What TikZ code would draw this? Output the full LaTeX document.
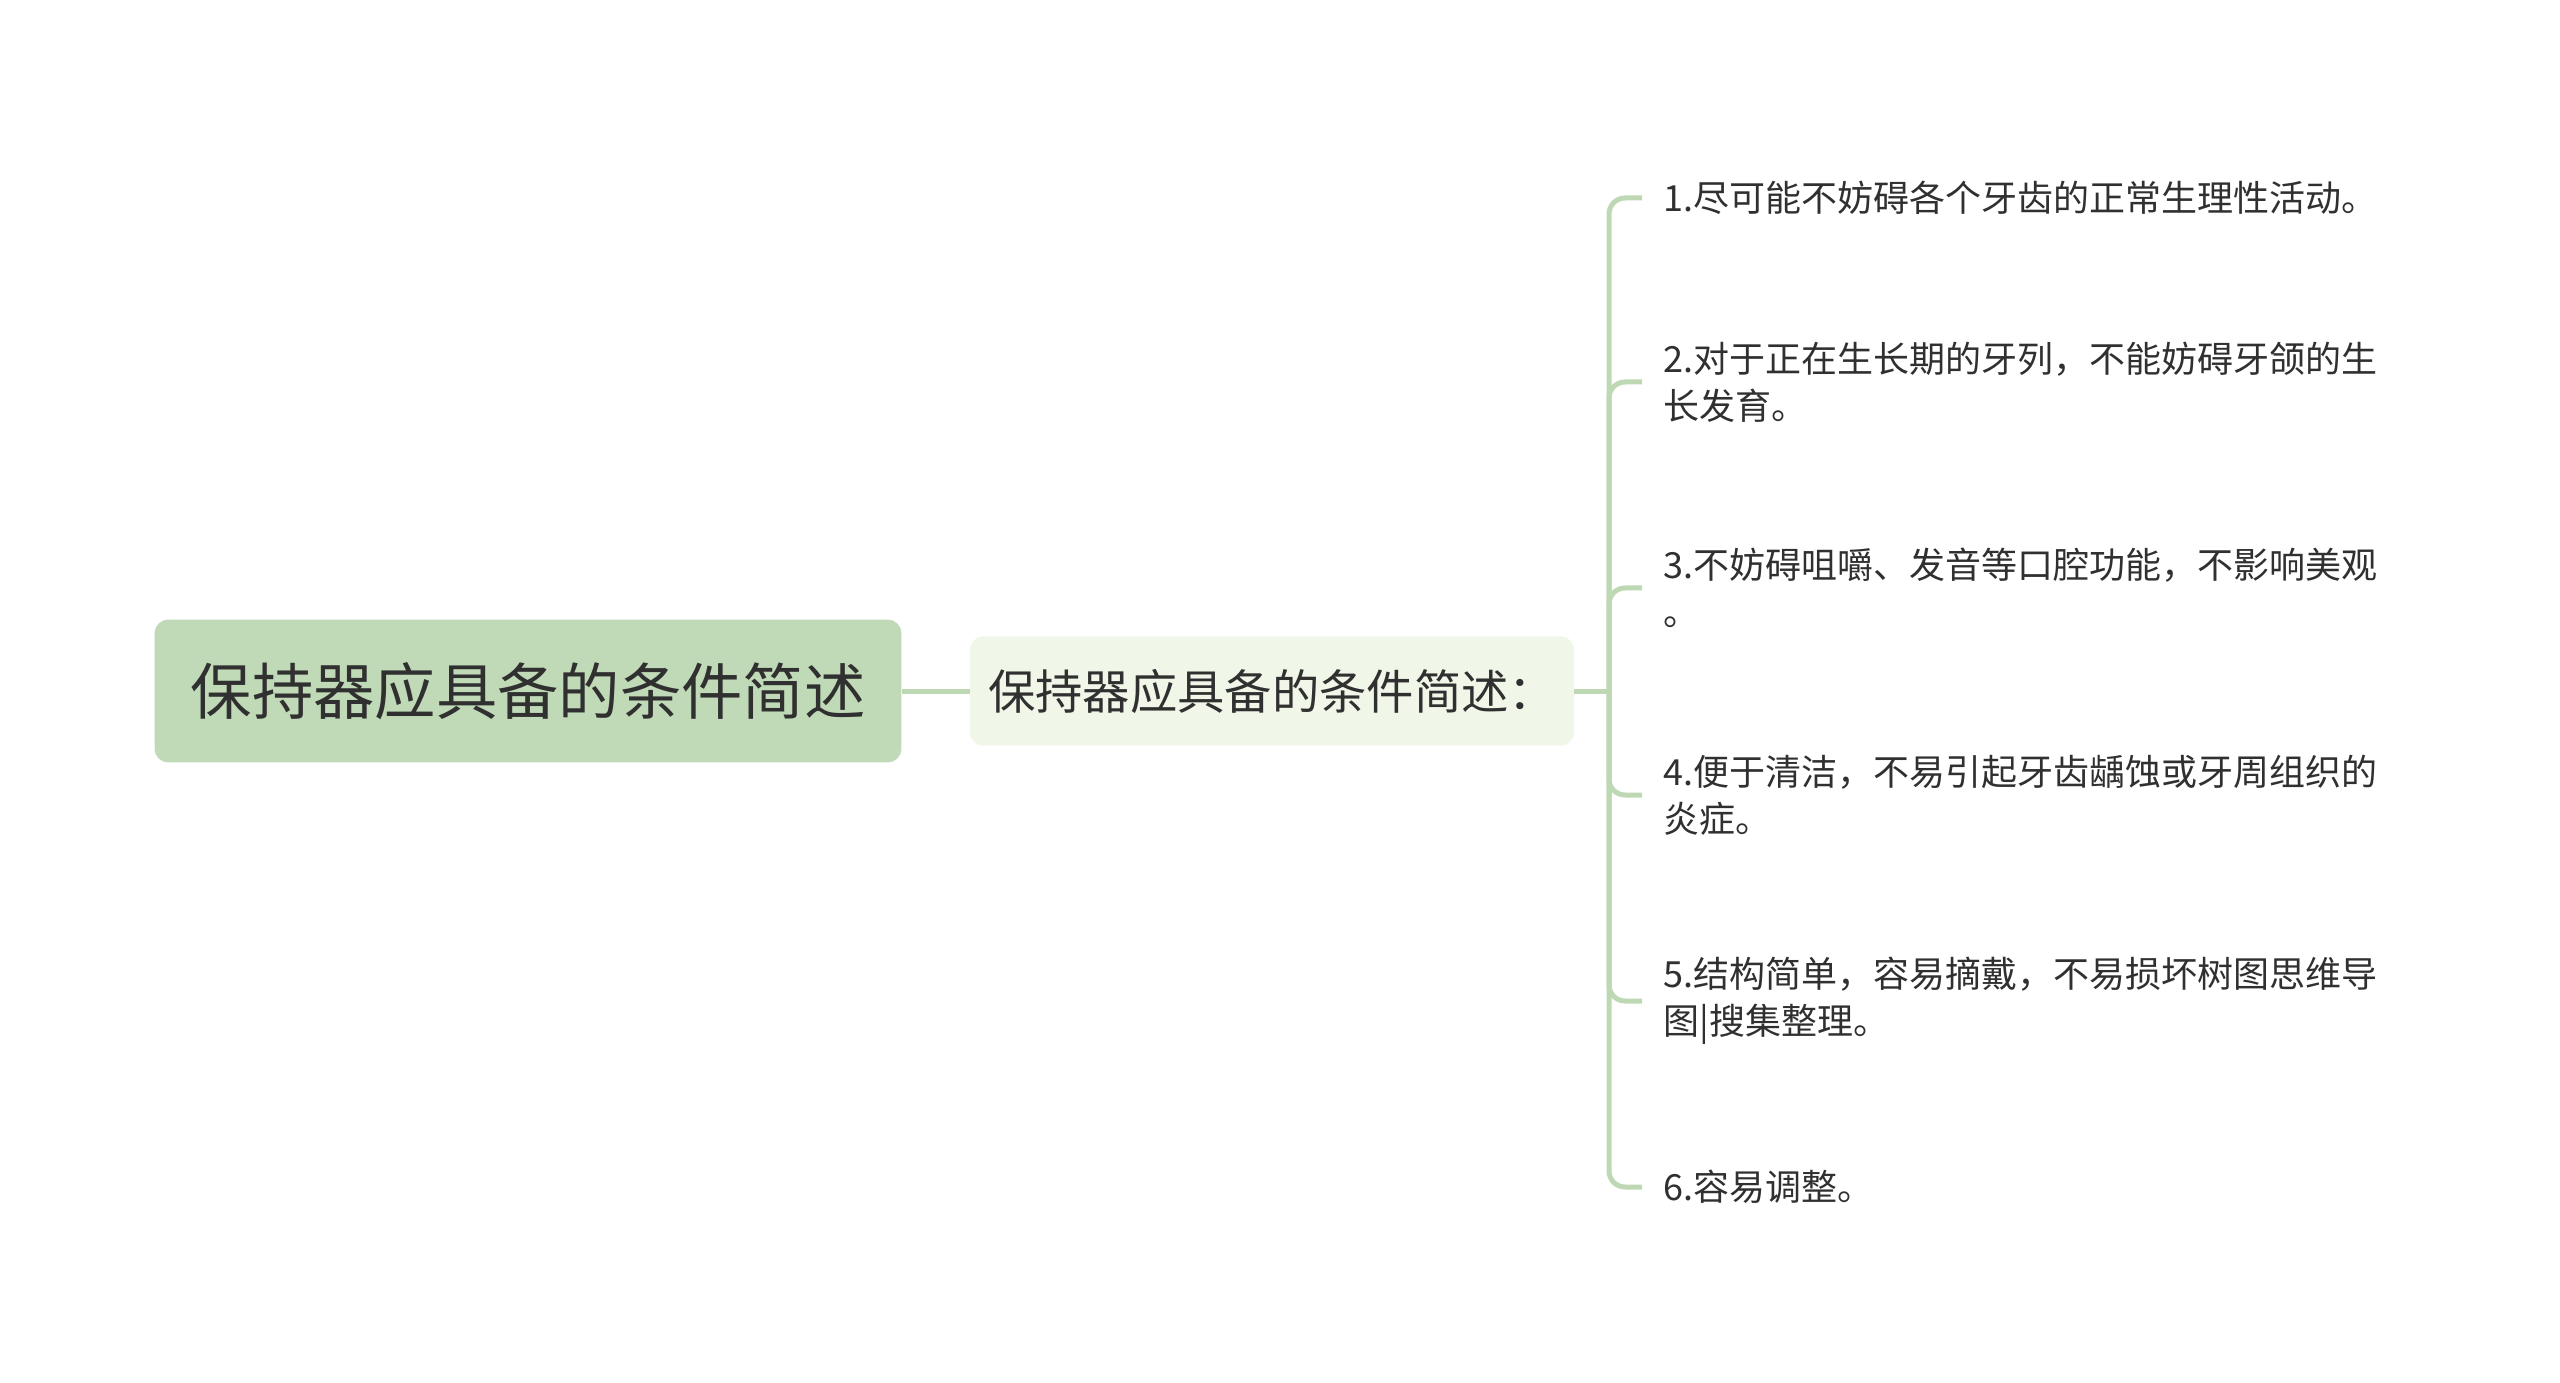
\documentclass[tikz,border=0pt]{standalone}
\usepackage{fontspec}
\setmainfont{Noto Sans CJK SC}
\usetikzlibrary{positioning}
\definecolor{rootgreen}{RGB}{192,218,184}
\definecolor{subgreen}{RGB}{240,246,232}
\definecolor{linkgreen}{RGB}{190,216,180}
\definecolor{inkgray}{RGB}{48,48,48}
\tikzset{
  every node/.style={
    text=inkgray
  },
  rootbox/.style={rounded corners=10pt, fill=rootgreen, minimum width=560pt,
    minimum height=107pt, font=\fontsize{46}{56}\selectfont},
  subbox/.style={rounded corners=10pt, fill=subgreen, minimum width=453pt,
    minimum height=82pt, font=\fontsize{35.5}{44}\selectfont},
  leaf/.style={anchor=west, align=left, inner xsep=15.75pt, inner ysep=0pt,
    font=\fontsize{27}{35}\selectfont},
  link/.style={draw=linkgreen, line width=3.75pt},
  branch/.style={link, rounded corners=12pt}
}

\begin{document}
\begin{tikzpicture}[x=0.75pt,y=-0.75pt]
      \useasboundingbox (0,0) rectangle (2560,1383);
      \node [rootbox] (Root) at (528,691) {保持器应具备的条件简述};
      \node [subbox, on grid, right=558pt of Root] (Sub) {保持器应具备的条件简述：};
      \coordinate (Fork) at (1609,691);
      \node [leaf] (LeafA) at (1642,198) {1.尽可能不妨碍各个牙齿的正常生理性活动。};
      \node [leaf] (LeafB) at (1642,382) {2.对于正在生长期的牙列，不能妨碍牙颌的生\\长发育。};
      \node [leaf] (LeafC) at (1642,588) {3.不妨碍咀嚼、发音等口腔功能，不影响美观\\。};
      \node [leaf] (LeafD) at (1642,795) {4.便于清洁，不易引起牙齿龋蚀或牙周组织的\\炎症。};
      \node [leaf] (LeafE) at (1642,1001) {5.结构简单，容易摘戴，不易损坏树图思维导\\图|搜集整理。};
      \node [leaf] (LeafF) at (1642,1187) {6.容易调整。};
      \draw [link] (Root.east) -- (Sub.west);
      \draw [link] (Sub.east) -- (Fork);
      \draw [branch] (Fork) |- (LeafA.west);
      \draw [branch] (Fork) |- (LeafB.west);
      \draw [branch] (Fork) |- (LeafC.west);
      \draw [branch] (Fork) |- (LeafD.west);
      \draw [branch] (Fork) |- (LeafE.west);
      \draw [branch] (Fork) |- (LeafF.west);
    \end{tikzpicture}
\end{document}
